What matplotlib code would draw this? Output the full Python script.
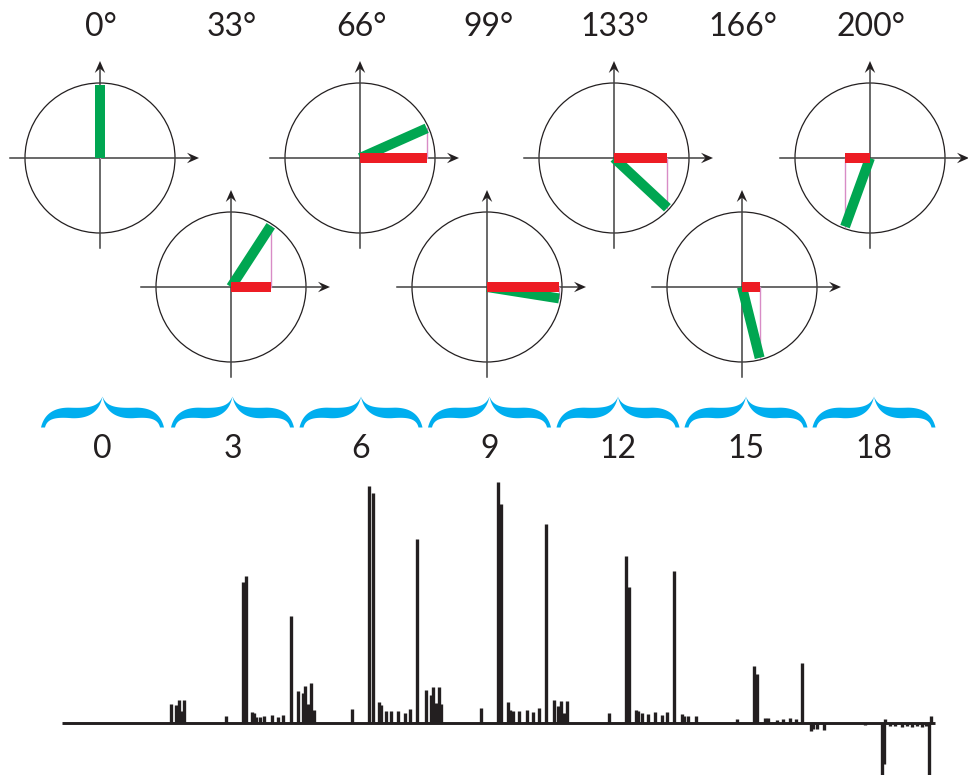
import numpy as np
import matplotlib
matplotlib.use("Agg")
import matplotlib.pyplot as plt
from matplotlib.patches import Circle, Polygon

# phase angles shown on the circles (degrees, clockwise from vertical)
angles = [0, 33, 66, 99, 133, 166, 200]
angle_labels = ["0°", "33°", "66°", "99°", "133°", "166°", "200°"]
# numbers under the braces
step_labels = ["0", "3", "6", "9", "12", "15", "18"]

# spectrum peaks: position (arbitrary units) and intensity
peak_pos = [171, 176, 179, 182, 184, 226,
            243, 246, 252, 254, 256, 260, 264, 272, 278, 283,
            291, 297.7, 302.7, 305, 308, 311, 313.7, 352,
            368.7, 372.7, 379, 381, 385.7, 391, 398, 405, 410,
            417, 426, 430.7, 433, 436, 438.7, 441, 480.7,
            497.5, 500.7, 507.7, 510, 512.7, 519.3, 526.7, 533.3, 539,
            546, 554, 558.3, 561, 564, 567.3, 609,
            625.7, 629, 636, 638, 641.7, 648.3, 655, 661.7, 666.7,
            674, 682, 684, 688.3, 696, 737.3,
            754.3, 757.3, 765, 768, 776.7, 783, 790, 796,
            802.3, 811, 813, 816.7, 824.3, 865,
            881.7, 884.3, 885, 890, 895, 901.7, 906.7, 911.7, 916.7, 921.7, 926,
            929.3, 930.5]
peak_int = [19, 18, 23, 12, 23, 7,
            141, 147, 11, 10, 6, 6, 7, 8, 6, 8,
            107, 32, 30, 37, 19, 40, 13, 14,
            237, 230, 21, 18, 12, 12, 12, 10, 14,
            184, 33, 28, 36, 20, 36, 19, 15,
            241, 219, 21, 13, 12, 12, 13, 11, 15,
            199, 23, 17, 22, 10, 22, 10,
            167, 136, 13, 12, 10, 9, 11, 8, 11,
            152, 9, 7, 7, 7, 4,
            57, 49, 5, 5, 3, 4, 5, 4,
            60, -8, -6, -6, -7, -2,
            -70, -41, 4, -3, -3, -4, -3, -4, -3, -4, -3,
            -70, 7]
spec_start, spec_end = 62, 935

GREEN = "#00a651"
RED = "#ed1c24"
PINK = "#d88cc6"
BLUE = "#00aeef"
TXT = "#231f20"

plt.rcParams['font.family'] = ['Lato', 'DejaVu Sans']

fig = plt.figure(figsize=(9.68, 7.75), dpi=100)

# spectrum in its own axes (drawn first, below the drawing layer)
ax2 = fig.add_axes([0, 0, 1, 1])
ax2.set_xlim(0, 968)
ax2.set_ylim(-52, 723)
ax2.axis("off")
ax2.plot([spec_start, spec_end], [0, 0], color=TXT, lw=2.1, solid_capstyle="butt")
ax2.vlines(peak_pos, 0, peak_int, color=TXT, lw=2.4)

# drawing layer in pixel-like units
ax = fig.add_axes([0, 0, 1, 1])
ax.set_xlim(0, 968)
ax.set_ylim(775, 0)
ax.axis("off")
ax.patch.set_alpha(0)

R = 75      # circle radius
VL = 73     # vector length
centers = [(100, 158), (231, 287), (360, 158), (487, 287),
           (614, 158), (742, 287), (870, 158)]


def arrowhead(x, y, dx, dy, L=12, W=10.5, notch=4.5):
    # chevron style head, tip at (x, y), pointing along (dx, dy)
    px, py = -dy, dx
    pts = [(x, y),
           (x - dx * L + px * W / 2, y - dy * L + py * W / 2),
           (x - dx * (L - notch), y - dy * (L - notch)),
           (x - dx * L - px * W / 2, y - dy * L - py * W / 2)]
    ax.add_patch(Polygon(pts, closed=True, color="#231f20", lw=0, zorder=6))


for (cx, cy), ang, lab in zip(centers, angles, angle_labels):
    ax.add_patch(Circle((cx, cy), R, fill=False, ec="#231f20", lw=0.9, zorder=2))
    ax.plot([cx - 90, cx + 92], [cy, cy], color="#404040", lw=1.1, zorder=3)
    ax.plot([cx, cx], [cy + 90, cy - 90], color="#404040", lw=1.1, zorder=3)
    arrowhead(cx + 99, cy, 1, 0)
    arrowhead(cx, cy - 97, 0, -1)

    t = np.radians(ang)
    tipx = cx + VL * np.sin(t)
    tipy = cy - VL * np.cos(t)
    ax.plot([tipx, tipx], [cy, tipy], color=PINK, lw=1.0, zorder=4)
    ax.plot([cx, tipx], [cy, tipy], color=GREEN, lw=7.2,
            solid_capstyle="butt", zorder=5)
    if abs(np.sin(t)) > 1e-6:
        ax.plot([cx, tipx], [cy, cy], color=RED, lw=7.2,
                solid_capstyle="butt", zorder=5)
    ax.text(cx + 1, 36, lab, ha="center", va="baseline", fontsize=23,
            color=TXT)


def bez(p0, p1, p2, p3, n=40):
    s = np.linspace(0, 1, n)[:, None]
    p0, p1, p2, p3 = map(np.array, (p0, p1, p2, p3))
    return ((1 - s) ** 3) * p0 + 3 * ((1 - s) ** 2) * s * p1 + 3 * (1 - s) * s ** 2 * p2 + s ** 3 * p3


top_half = np.vstack([bez((0, 0), (0.05, 0.42), (0.2, 0.64), (0.45, 0.64)),
                      bez((0.45, 0.64), (0.75, 0.62), (0.93, 0.64), (1, 1))])
bot_half = np.vstack([bez((0.065, 0), (0.1, 0.3), (0.25, 0.34), (0.5, 0.3)),
                      bez((0.5, 0.3), (0.78, 0.28), (0.95, 0.5), (1, 1))])


def mirror(p):
    q = p.copy()
    q[:, 0] = 2 - q[:, 0]
    return q


brace_shape = np.vstack([top_half, mirror(top_half)[::-1],
                         mirror(bot_half), bot_half[::-1]])

brace_x = [102.5, 232.5, 361, 489.5, 618, 746, 874]
for bx, lab in zip(brace_x, step_labels):
    pts = np.column_stack([bx + (brace_shape[:, 0] - 1) * 61.5,
                           427.5 - brace_shape[:, 1] * 31])
    ax.add_patch(Polygon(pts, closed=True, color=BLUE, lw=0, zorder=3))
    ax.text(bx, 458, lab, ha="center", va="baseline", fontsize=23,
            color=TXT)

fig.savefig("out.png", dpi=100)
